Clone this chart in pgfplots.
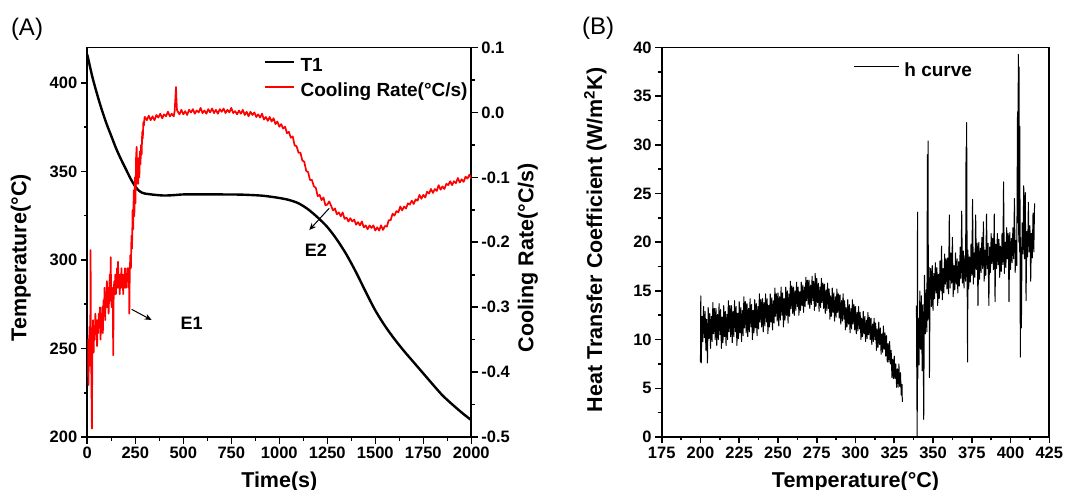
\documentclass[border=0pt]{standalone}
\usepackage{fontspec}
\setmainfont{Liberation Sans}
\usepackage{pgfplots}
\pgfplotsset{compat=1.18}
\usetikzlibrary{arrows.meta}

\newcommand\tickfont{\fontsize{16.5}{18}\selectfont\bfseries}
\newcommand\labfont{\fontsize{21.5}{24}\selectfont\bfseries}
\newcommand\legfont{\fontsize{19}{21}\selectfont\bfseries}

\pgfplotsset{
  panel/.style={
    scale only axis, height=389.5pt,
    axis line style={line width=1.8pt, black},
    tick align=outside,
    major tick length=6.5pt, minor tick length=3.5pt,
    tick style={line width=1.6pt, black},
    tick label style={font=\tickfont},
    label style={font=\labfont, inner sep=0pt},
    /pgf/number format/assume math mode=true,
    /pgf/number format/set thousands separator={},
  },
}

\begin{document}
\begin{tikzpicture}
\useasboundingbox (0pt,0pt) rectangle (1066pt,490pt);

\node[font=\fontsize{24}{26}\selectfont] at (27pt,461pt) {(A)};
\node[font=\fontsize{24}{26}\selectfont] at (598pt,461.5pt) {(B)};

% ---- panel A, left axis: temperature
\begin{axis}[panel, at={(87.3pt,53pt)}, anchor=south west, width=384pt,
  xmin=0, xmax=2000, ymin=200, ymax=420,
  xtick={0,250,...,2000}, ytick={200,250,...,400},
  minor x tick num=1, minor y tick num=1,
  xtick pos=left, ytick pos=left,
  xlabel={Time(s)}, ylabel={Temperature(°C)},
  xlabel style={at={([yshift=-50pt]axis description cs:0.5,0)}, anchor=base},
  ylabel style={at={([xshift=-61pt]axis description cs:0,0.46)}, anchor=base},
]
\addplot[black, line width=2.4pt, smooth] coordinates {
(0,416) (25,404) (50,394) (75,385) (100,377) (125,370) (150,363) (175,357)
(200,351.5) (225,346) (250,341.5) (270,339) (285,338) (300,337.5) (350,336.8)
(400,336.4) (450,336.6) (500,337) (600,337) (700,337) (800,336.9) (900,336.4)
(950,335.8) (1000,335) (1050,333.9) (1100,332) (1150,328.6) (1200,324)
(1250,318.6) (1300,311.5) (1350,303) (1400,293) (1450,282) (1500,271.5)
(1550,262.8) (1600,255.3) (1650,248.5) (1700,242.2) (1750,235.9) (1800,229.6)
(1850,223.5) (1900,218.5) (1950,213.8) (2000,209.5)};
\draw[line width=1pt, -{Stealth[length=7pt,width=6pt]}] (axis cs:231,272.1) -- (axis cs:335,266.1);
\draw[line width=1pt, -{Stealth[length=7pt,width=6pt]}] (axis cs:1260,329.2) -- (axis cs:1156,316.9);
\node[font=\fontsize{18}{20}\selectfont\bfseries] at (axis cs:544,264.2) {E1};
\node[font=\fontsize{18}{20}\selectfont\bfseries] at (axis cs:1190,305.6) {E2};
\end{axis}

% ---- panel A, right axis: cooling rate
\begin{axis}[panel, at={(87.3pt,53pt)}, anchor=south west, width=384pt,
  xmin=0, xmax=2000, ymin=-0.5, ymax=0.1,
  axis x line=none, axis y line*=right, ytick pos=right,
  ytick={-0.5,-0.4,-0.3,-0.2,-0.1,0,0.1}, minor y tick num=1,
  yticklabel style={/pgf/number format/.cd, fixed, fixed zerofill, precision=1},
  ylabel={Cooling Rate(°C/s)},
  ylabel style={at={([xshift=62pt]axis description cs:1,0.46)}, anchor=base, rotate=0},
  legend style={at={(axis description cs:0.46,0.974)}, anchor=north west,
    draw=none, fill=none, inner sep=0pt, row sep=7pt, font=\legfont,
    nodes={inner sep=0pt, text height=14pt, text depth=4pt},
    /tikz/every odd column/.style={column sep=5pt}},
  legend cell align=left,
  legend image code/.code={\draw[#1] (0pt,5pt) -- (29pt,5pt);},
]
\addlegendimage{black, line width=2.4pt}
\addlegendentry{T1}
\addplot[red, line width=1.7pt, line join=round] coordinates {
(0,-0.38) (3,-0.35) (6,-0.42) (9,-0.36) (12,-0.33) (15,-0.39) (17,-0.212) (19,-0.36)
(21,-0.40) (24,-0.487) (26,-0.38) (28,-0.34) (30,-0.32) (33,-0.37) (36,-0.33) (39,-0.35)
(42,-0.31) (45,-0.34) (48,-0.32) (51,-0.36) (54,-0.32) (57,-0.34) (60,-0.31) (63,-0.33)
(66,-0.30) (69,-0.35) (72,-0.31) (75,-0.33) (78,-0.30) (81,-0.34) (84,-0.29) (87,-0.31)
(90,-0.27) (93,-0.32) (96,-0.28) (99,-0.30) (102,-0.26) (105,-0.30) (108,-0.27) (111,-0.31)
(114,-0.28) (117,-0.25) (120,-0.29) (122,-0.223) (124,-0.28) (127,-0.30) (130,-0.27)
(133,-0.29) (135,-0.374) (137,-0.29) (140,-0.26) (143,-0.28) (146,-0.25) (149,-0.28)
(152,-0.26) (155,-0.24) (157,-0.27) (160,-0.23) (163,-0.27) (166,-0.25) (169,-0.28)
(172,-0.25) (175,-0.27) (178,-0.24) (181,-0.27) (184,-0.25) (187,-0.28) (190,-0.25)
(193,-0.27) (196,-0.24) (199,-0.27) (202,-0.25) (205,-0.27) (208,-0.24) (211,-0.26)
(214,-0.24) (217,-0.25) (219,-0.31) (221,-0.25) (224,-0.22) (227,-0.24) (230,-0.19)
(233,-0.21) (236,-0.15) (239,-0.18) (242,-0.12) (245,-0.16) (248,-0.10) (251,-0.14)
(254,-0.07) (257,-0.053) (259,-0.11) (262,-0.08) (265,-0.11) (268,-0.07) (271,-0.10)
(274,-0.06) (277,-0.08) (280,-0.05) (283,-0.065) (286,-0.03) (289,-0.04) (292,-0.015)
(295,-0.02) (298,-0.008)
(300,-0.007) (310,-0.012) (320,-0.005) (330,-0.012) (340,-0.006) (350,-0.012) (360,-0.004)
(370,-0.008) (380,-0.002) (390,-0.009) (400,-0.003) (410,-0.006) (420,0.001) (430,-0.006)
(440,-0.002) (450,-0.006) (455,0.002) (460,0.028) (462,0.039) (464,0.022) (467,0.004)
(470,0.002) (480,-0.003) (490,0.004) (500,-0.003) (510,0.002) (520,-0.004) (530,0.004)
(540,0.000) (550,0.005) (560,-0.002) (570,0.003) (580,0.000) (590,0.007) (600,-0.001)
(610,0.003) (620,-0.002) (630,0.005) (640,0.000) (650,0.006) (660,-0.001) (670,0.004)
(680,-0.002) (690,0.005) (700,0.001) (710,0.006) (720,-0.001) (730,0.004) (740,0.000)
(750,0.007) (760,-0.001) (770,0.002) (780,-0.003) (790,0.003) (800,-0.002) (810,0.004)
(820,-0.004) (830,0.001) (840,-0.006) (850,0.001) (860,-0.004) (870,0.000) (880,-0.007)
(890,-0.003) (900,-0.008) (910,-0.002) (920,-0.011) (930,-0.007) (940,-0.013) (950,-0.007)
(960,-0.014) (970,-0.009) (980,-0.018) (990,-0.014) (1000,-0.022) (1010,-0.018)
(1020,-0.025) (1030,-0.022) (1040,-0.032) (1050,-0.030) (1060,-0.039) (1070,-0.037)
(1080,-0.051) (1090,-0.052) (1100,-0.062) (1110,-0.062) (1120,-0.074) (1130,-0.076)
(1140,-0.090) (1150,-0.092) (1160,-0.104) (1170,-0.104) (1180,-0.114) (1190,-0.116)
(1200,-0.129) (1210,-0.127) (1220,-0.135) (1230,-0.131) (1240,-0.143) (1250,-0.142)
(1260,-0.137) (1270,-0.144) (1280,-0.151) (1290,-0.148) (1300,-0.157) (1310,-0.154)
(1320,-0.160) (1330,-0.154) (1340,-0.164) (1350,-0.162) (1360,-0.168) (1370,-0.163)
(1380,-0.168) (1390,-0.165) (1400,-0.173) (1410,-0.169) (1420,-0.174) (1430,-0.168)
(1440,-0.177) (1450,-0.174) (1460,-0.180) (1470,-0.174) (1480,-0.178) (1490,-0.174)
(1500,-0.182) (1510,-0.177) (1520,-0.182) (1530,-0.174) (1540,-0.181) (1550,-0.175)
(1560,-0.176) (1570,-0.166) (1580,-0.166) (1590,-0.156) (1600,-0.159) (1610,-0.152)
(1620,-0.154) (1630,-0.145) (1640,-0.151) (1650,-0.145) (1660,-0.148) (1670,-0.140)
(1680,-0.142) (1690,-0.136) (1700,-0.141) (1710,-0.134) (1720,-0.136) (1730,-0.127)
(1740,-0.133) (1750,-0.127) (1760,-0.131) (1770,-0.122) (1780,-0.125) (1790,-0.118)
(1800,-0.124) (1810,-0.118) (1820,-0.121) (1830,-0.112) (1840,-0.119) (1850,-0.114)
(1860,-0.118) (1870,-0.110) (1880,-0.112) (1890,-0.106) (1900,-0.112) (1910,-0.106)
(1920,-0.109) (1930,-0.101) (1940,-0.108) (1950,-0.103) (1960,-0.107) (1970,-0.099)
(1980,-0.102) (1990,-0.096) (2000,-0.102)};
\addlegendentry{Cooling Rate(°C/s)}
\end{axis}

% ---- panel B: heat transfer coefficient
\begin{axis}[panel, at={(661.7pt,53pt)}, anchor=south west, width=387.6pt,
  xmin=175, xmax=425, ymin=0, ymax=40,
  xtick={175,200,...,425}, ytick={0,5,...,40},
  minor x tick num=1, minor y tick num=1,
  xtick pos=left, ytick pos=left,
  xlabel={Temperature(°C)}, ylabel={Heat Transfer Coefficient (W/m\textsuperscript{2}K)},
  xlabel style={at={([yshift=-50pt]axis description cs:0.5,0)}, anchor=base},
  ylabel style={at={([xshift=-59.6pt]axis description cs:0,0.506)}, anchor=base},
  legend style={at={(axis description cs:0.494,0.962)}, anchor=north west,
    draw=none, fill=none, inner sep=0pt, font=\legfont,
    nodes={inner sep=0pt, text height=14pt, text depth=4pt},
    /tikz/every odd column/.style={column sep=5pt}},
  legend image code/.code={\draw[#1] (0pt,5pt) -- (45pt,5pt);},
]
\addplot[black, line width=1pt, line join=round] coordinates {
(200.0,7.7) (200.2,14.5) (200.5,7.6) (201.0,12.4) (201.5,9.8) (202.0,13.4) (202.5,10.2)
(203.0,12.9) (203.5,8.9) (204.0,12.1) (204.5,7.6) (205.0,13.3) (205.5,10.1) (206.0,12.7)
(206.5,9.1) (207.0,12.4) (207.5,9.8) (208.0,13.8) (208.5,10.6) (209.0,13.2) (209.5,10.0)
(210.0,13.2) (210.5,9.4) (211.0,12.6) (211.5,10.0) (212.0,13.7) (212.5,10.5) (213.0,13.1)
(213.5,9.1) (214.0,12.3) (214.5,9.7) (215.0,13.5) (215.5,10.3) (216.0,12.9) (216.5,9.4)
(217.0,12.6) (217.5,10.0) (218.0,14.0) (218.5,10.8) (219.0,13.5) (219.5,10.3) (220.0,13.5)
(220.5,9.7) (221.0,12.9) (221.5,10.3) (222.0,14.0) (222.5,10.8) (223.0,13.4) (223.5,9.4)
(224.0,12.7) (224.5,10.1) (225.0,13.9) (225.5,10.7) (226.0,13.3) (226.5,9.8) (227.0,13.0)
(227.5,10.4) (228.0,14.4) (228.5,11.2) (229.0,13.9) (229.5,10.7) (230.0,13.7) (230.5,10.3)
(231.0,13.2) (231.5,10.8) (232.0,14.2) (232.5,11.3) (233.0,13.6) (233.5,10.0) (234.0,13.0)
(234.5,10.7) (235.0,14.1) (235.5,11.2) (236.0,13.7) (236.5,10.4) (237.0,13.4) (237.5,11.1)
(238.0,14.7) (238.5,11.8) (239.0,14.1) (239.5,11.3) (240.0,14.2) (240.5,10.8) (241.0,13.8)
(241.5,11.4) (242.0,14.7) (242.5,11.8) (243.0,14.2) (243.5,10.6) (244.0,13.5) (244.5,11.3)
(245.0,14.7) (245.5,11.8) (246.0,14.3) (246.5,11.0) (247.0,14.0) (247.5,11.7) (248.0,15.3)
(248.5,12.4) (249.0,14.7) (249.5,11.9) (250.0,14.8) (250.5,11.4) (251.0,14.4) (251.5,12.0)
(252.0,15.4) (252.5,12.5) (253.0,14.8) (253.5,11.3) (254.0,14.2) (254.5,12.0) (255.0,15.4)
(255.5,12.5) (256.0,15.0) (256.5,11.7) (257.0,14.7) (257.5,12.4) (258.0,16.0) (258.5,13.2)
(259.0,15.5) (259.5,12.7) (260.0,15.4) (260.5,12.5) (261.0,15.0) (261.5,13.0) (262.0,15.9)
(262.5,13.4) (263.0,15.4) (263.5,12.5) (264.0,14.9) (264.5,13.0) (265.0,15.9) (265.5,13.5)
(266.0,15.6) (266.5,12.8) (267.0,15.4) (267.5,13.4) (268.0,16.4) (268.5,14.0) (269.0,16.1)
(269.5,13.6) (270.0,16.1) (270.5,13.2) (271.0,15.6) (271.5,13.6) (272.0,16.5) (272.5,14.0)
(273.0,16.0) (273.5,13.0) (274.0,16.8) (274.5,13.4) (275.0,16.3) (275.5,13.8) (276.0,15.8)
(276.5,12.9) (277.0,15.4) (277.5,13.3) (278.0,16.3) (278.5,13.8) (279.0,15.8) (279.5,13.2)
(280.0,15.7) (280.5,12.7) (281.0,15.1) (281.5,13.0) (282.0,15.8) (282.5,13.2) (283.0,15.2)
(283.5,12.1) (284.0,14.5) (284.5,12.4) (285.0,15.3) (285.5,12.8) (286.0,14.8) (286.5,11.9)
(287.0,14.4) (287.5,12.3) (288.0,15.2) (288.5,12.8) (289.0,14.7) (289.5,12.2) (290.0,14.6)
(290.5,11.6) (291.0,14.0) (291.5,11.9) (292.0,14.7) (292.5,12.1) (293.0,14.0) (293.5,11.0)
(294.0,13.3) (294.5,11.3) (295.0,14.1) (295.5,11.6) (296.0,13.6) (296.5,10.7) (297.0,13.2)
(297.5,11.1) (298.0,14.1) (298.5,11.6) (299.0,13.6) (299.5,11.0) (300.0,13.4) (300.5,10.6)
(301.0,12.8) (301.5,10.9) (302.0,13.4) (302.5,11.1) (303.0,12.8) (303.5,10.0) (304.0,12.2)
(304.5,10.3) (305.0,12.9) (305.5,10.6) (306.0,12.4) (306.5,9.8) (307.0,12.0) (307.5,10.1)
(308.0,12.8) (308.5,10.5) (309.0,12.3) (309.5,10.0) (310.0,12.2) (310.5,9.5) (311.0,11.6)
(311.5,9.8) (312.0,12.2) (312.5,10.0) (313.0,11.7) (313.5,8.9) (314.0,11.1) (314.5,9.2)
(315.0,11.8) (315.5,9.5) (316.0,11.2) (316.5,8.5) (317.0,10.6) (317.5,8.7) (318.0,11.4)
(318.5,9.0) (319.0,10.7) (319.5,8.3) (320.0,10.4) (320.5,7.7) (321.0,9.6) (321.5,7.7)
(322.0,9.8) (322.5,7.5) (323.0,8.9) (323.5,6.1) (324.0,8.0) (324.5,6.0) (325.0,8.3)
(325.5,6.0) (326.0,7.5) (326.5,5.1) (327.0,7.0) (327.5,5.1) (328.0,7.5) (328.5,5.2)
(329.0,6.6) (329.5,4.3) (330.0,5.4) (330.2,3.6)};
\addlegendentry{h curve}
\addplot[black, line width=1pt, line join=round, forget plot] coordinates {
(339.3,13.5) (339.6,4.0) (339.8,0.0) (340.0,23.1) (340.2,6.0) (340.5,12.2) (341.0,7.4)
(341.5,15.0) (342.0,9.0) (342.5,14.5) (343.0,6.8) (343.5,13.6) (344.0,1.8) (344.5,16.6)
(345.0,10.6) (345.5,15.1) (346.0,10.8) (346.4,29.0) (346.6,12.0) (346.8,30.4) (347.0,12.2)
(347.5,17.4) (347.7,6.1) (348.0,13.8) (348.5,17.3) (349.0,13.4) (349.5,17.6) (350.0,13.0)
(350.5,16.8) (351.0,14.2) (351.5,17.9) (352.0,14.8) (352.5,17.4) (353.0,13.5) (353.5,16.7)
(354.0,14.2) (354.5,18.1) (355.0,15.0) (355.5,19.6) (356.0,14.1) (356.5,17.3) (357.0,14.8)
(357.5,18.8) (358.0,15.7) (358.5,18.3) (359.0,15.2) (359.5,18.4) (360.0,14.7) (360.5,22.8)
(361.0,15.3) (361.5,18.9) (362.0,15.8) (362.5,20.5) (363.0,14.4) (363.5,17.6) (364.0,15.1)
(364.5,18.9) (365.0,15.7) (365.5,18.3) (366.0,14.8) (366.5,18.0) (367.0,15.5) (367.5,19.5)
(368.0,16.3) (368.5,23.2) (369.0,15.8) (369.5,19.1) (370.0,15.3) (370.5,18.6) (371.0,16.0)
(371.3,29.8) (371.5,16.5) (371.7,32.3) (372.0,16.5) (372.3,7.7) (372.5,19.2) (373.0,15.2)
(373.5,18.5) (374.0,15.9) (374.5,19.8) (375.0,16.6) (375.5,24.4) (376.0,15.7) (376.5,18.9)
(377.0,16.4) (377.5,22.8) (378.0,17.2) (378.5,19.9) (379.0,13.5) (379.5,20.0) (380.0,16.2)
(380.5,19.4) (381.0,16.9) (381.5,20.5) (382.0,17.3) (382.5,22.1) (383.0,16.0) (383.5,19.2)
(384.0,16.6) (384.5,22.9) (385.0,17.3) (385.5,19.9) (386.0,13.5) (386.5,19.5) (387.0,16.9)
(387.5,20.9) (388.0,17.8) (388.5,20.4) (389.0,17.2) (389.5,22.9) (390.0,13.9) (390.5,19.8)
(391.0,17.3) (391.5,20.9) (392.0,17.7) (392.5,20.3) (393.0,16.4) (393.5,19.6) (394.0,17.0)
(394.5,20.9) (395.0,17.7) (395.5,26.2) (396.0,16.8) (396.5,20.0) (397.0,17.4) (397.5,21.5)
(398.0,18.3) (398.5,20.9) (399.0,13.9) (399.5,21.0) (400.0,17.2) (400.5,20.4) (401.0,17.9)
(401.5,21.5) (402.0,18.3) (402.5,24.5) (403.0,16.9) (403.5,20.2) (404.0,17.6) (404.5,33.4)
(404.8,22.0) (405.0,39.3) (405.3,20.0) (405.5,38.0) (405.8,19.0) (406.0,31.9) (406.3,8.2)
(406.5,20.5) (407.0,11.2) (407.5,22.0) (408.0,18.8) (408.5,25.8) (409.0,18.3) (409.5,25.1)
(410.0,14.0) (410.5,21.1) (411.0,18.5) (411.5,24.1) (412.0,19.0) (412.5,21.7) (413.0,16.0)
(413.5,20.9) (414.0,18.4) (414.5,23.0) (415.0,19.0) (415.5,24.0)};
\end{axis}
\end{tikzpicture}
\end{document}
